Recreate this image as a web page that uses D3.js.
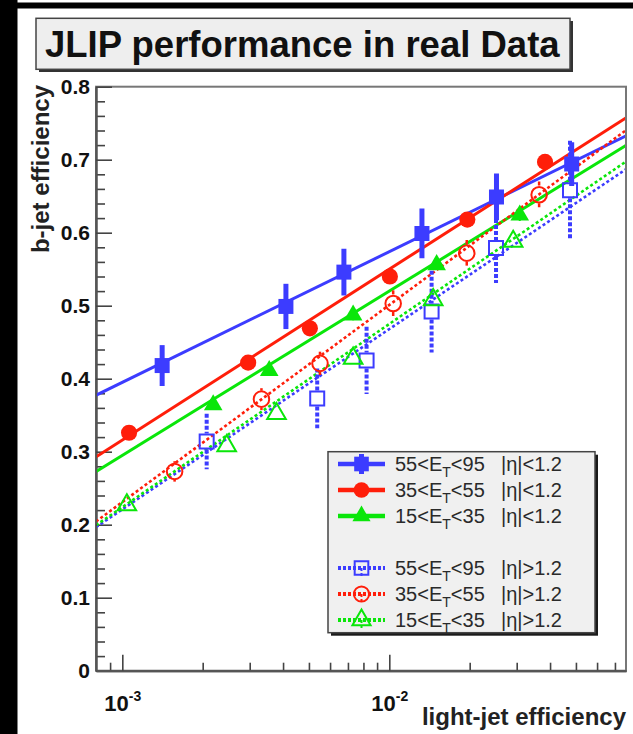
<!DOCTYPE html>
<html>
<head>
<meta charset="utf-8">
<script src="https://cdn.jsdelivr.net/npm/d3@7"></script>
<style>
  body { margin: 0; background: #fff; }
  svg { display: block; }
  text { font-family: "Liberation Sans", Arial, Helvetica, sans-serif; }
</style>
</head>
<body>
<svg id="chart" width="633" height="734"></svg>
<script>
// ---- measured working points: light-jet efficiency vs b-jet efficiency ----
// 55 < ET < 95, |eta| < 1.2
const lightA = [1.41e-3, 4.10e-3, 6.76e-3, 1.325e-2, 2.52e-2, 4.82e-2];
const bEffA  = [0.418, 0.499, 0.546, 0.599, 0.649, 0.694];
const bErrA  = [0.028, 0.031, 0.032, 0.034, 0.032, 0.030];
// 35 < ET < 55, |eta| < 1.2
const lightB = [1.06e-3, 2.96e-3, 5.04e-3, 1.005e-2, 1.96e-2, 3.83e-2];
const bEffB  = [0.326, 0.422, 0.469, 0.540, 0.618, 0.697];
const bErrB  = [0.006, 0.006, 0.007, 0.007, 0.007, 0.008];
// 15 < ET < 35, |eta| < 1.2
const lightC = [2.19e-3, 3.55e-3, 7.32e-3, 1.504e-2, 3.08e-2];
const bEffC  = [0.364, 0.411, 0.487, 0.556, 0.624];
const bErrC  = [0.006, 0.006, 0.007, 0.007, 0.008];
// 55 < ET < 95, |eta| > 1.2
const lightD = [2.07e-3, 5.37e-3, 8.22e-3, 1.44e-2, 2.51e-2, 4.75e-2];
const bEffD  = [0.314, 0.373, 0.425, 0.492, 0.579, 0.658];
const bErrD  = [0.038, 0.041, 0.046, 0.056, 0.048, 0.068];
// 35 < ET < 55, |eta| > 1.2
const lightE = [1.57e-3, 3.32e-3, 5.50e-3, 1.034e-2, 1.95e-2, 3.64e-2];
const bEffE  = [0.273, 0.372, 0.421, 0.503, 0.572, 0.652];
const bErrE  = [0.014, 0.015, 0.016, 0.018, 0.018, 0.018];
// 15 < ET < 35, |eta| > 1.2
const lightF = [1.04e-3, 2.46e-3, 3.78e-3, 7.32e-3, 1.46e-2, 2.91e-2];
const bEffF  = [0.227, 0.308, 0.352, 0.428, 0.508, 0.588];
const bErrF  = [0.006, 0.006, 0.007, 0.007, 0.008, 0.008];

// straight-line fits in log10(light eff): b = intercept + slope * (log10(x) + 3)
const fitIntercept = [0.395, 0.316, 0.295, 0.221, 0.231, 0.224];
const fitSlope     = [0.179, 0.234, 0.225, 0.247, 0.270, 0.251];

// legend text
const etLow   = ["55", "35", "15", "55", "35", "15"];
const etHigh  = ["95", "55", "35", "95", "55", "35"];
const etaCut  = ["|\u03b7|<1.2", "|\u03b7|<1.2", "|\u03b7|<1.2", "|\u03b7|>1.2", "|\u03b7|>1.2", "|\u03b7|>1.2"];

// axis ticks
const xMajorTicks = [1e-3, 1e-2];
const xMajorExp   = ["-3", "-2"];
const yMajorTicks = [0, 0.1, 0.2, 0.3, 0.4, 0.5, 0.6, 0.7, 0.8];
const yTickLabels = ["0", "0.1", "0.2", "0.3", "0.4", "0.5", "0.6", "0.7", "0.8"];

const titleText = "JLIP performance in real Data";

// ---- styles ----
const blue = "#3c3cff", red = "#ff1e0a", green = "#0ae60a";
const styles = [
  { color: blue,  shape: d3.symbolSquare,   size: 225, filled: true,  dashed: false, barW: 5,   half: 7.5 },
  { color: red,   shape: d3.symbolCircle,   size: 205, filled: true,  dashed: false, barW: 2,   half: 8 },
  { color: green, shape: d3.symbolTriangle, size: 150, filled: true,  dashed: false, barW: 2,   half: 8 },
  { color: blue,  shape: d3.symbolSquare,   size: 196, filled: false, dashed: true,  barW: 4,   half: 8 },
  { color: red,   shape: d3.symbolCircle,   size: 190, filled: false, dashed: true,  barW: 2.5, half: 8.5 },
  { color: green, shape: d3.symbolTriangle, size: 150, filled: false, dashed: true,  barW: 2,   half: 8 }
];

const series = [
  { x: lightA, y: bEffA, e: bErrA },
  { x: lightB, y: bEffB, e: bErrB },
  { x: lightC, y: bEffC, e: bErrC },
  { x: lightD, y: bEffD, e: bErrD },
  { x: lightE, y: bEffE, e: bErrE },
  { x: lightF, y: bEffF, e: bErrF }
].map((s, i) => ({
  ...s, ...styles[i],
  a: fitIntercept[i], b: fitSlope[i],
  pts: s.x.map((v, j) => ({ x: v, y: s.y[j], e: s.e[j] }))
}));

// ---- layout ----
const svg = d3.select("#chart");
const frame = { left: 96, right: 626, top: 86.7, bottom: 670.7 };

const x = d3.scaleLog().domain([7.97e-4, 0.077]).range([frame.left, frame.right]);
const y = d3.scaleLinear().domain([0, 0.8]).range([frame.bottom, frame.top]);

// canvas border bands
svg.append("rect").attr("x", 0).attr("y", 0).attr("width", 633).attr("height", 734).attr("fill", "#fff");
svg.append("rect").attr("x", 0).attr("y", 2.5).attr("width", 633).attr("height", 6).attr("fill", "#000");
svg.append("rect").attr("x", 0).attr("y", 0).attr("width", 17.5).attr("height", 734).attr("fill", "#000");

// title box
svg.append("rect").attr("x", 39).attr("y", 21).attr("width", 534).attr("height", 51).attr("fill", "#333");
svg.append("rect").attr("x", 36).attr("y", 18.3).attr("width", 534).attr("height", 51)
  .attr("fill", "#eeeeee").attr("stroke", "#444").attr("stroke-width", 1.5);
svg.append("text").attr("x", 45).attr("y", 56.5)
  .attr("font-size", 36.5).attr("font-weight", "bold").attr("fill", "#111")
  .text(titleText);

// frame
svg.append("rect")
  .attr("x", frame.left).attr("y", frame.top)
  .attr("width", frame.right - frame.left).attr("height", frame.bottom - frame.top)
  .attr("fill", "#fff").attr("stroke", "#777").attr("stroke-width", 2);

// y axis: major ticks with labels, minor ticks every 0.02
const yMinor = d3.range(0, 0.8001, 0.02).filter(v => Math.abs(v * 10 - Math.round(v * 10)) > 1e-6);
const yAxisMinor = d3.axisLeft(y).tickValues(yMinor).tickSizeInner(-9).tickSizeOuter(0).tickFormat("");
const yAxisMajor = d3.axisLeft(y).tickValues(yMajorTicks).tickSizeInner(-16).tickSizeOuter(0)
  .tickPadding(6).tickFormat((d, i) => yTickLabels[i]);

const gyMinor = svg.append("g").attr("transform", `translate(${frame.left},0)`).call(yAxisMinor);
const gyMajor = svg.append("g").attr("transform", `translate(${frame.left},0)`).call(yAxisMajor);
[gyMinor, gyMajor].forEach(g => {
  g.select(".domain").attr("stroke", "#555").attr("stroke-width", 2);
  g.selectAll(".tick line").attr("stroke", "#444").attr("stroke-width", 1.6);
});
gyMajor.selectAll(".tick text")
  .attr("x", -6).attr("font-size", 21).attr("font-weight", "bold").attr("fill", "#111")
  .attr("font-family", "'Liberation Sans', Arial, sans-serif");

// x axis: decades labelled 10^n, minor ticks at 2..9
const xMinor = [9e-4, 2e-3, 3e-3, 4e-3, 5e-3, 6e-3, 7e-3, 8e-3, 9e-3, 2e-2, 3e-2, 4e-2, 5e-2, 6e-2, 7e-2];
const xAxisMinor = d3.axisBottom(x).tickValues(xMinor).tickSizeInner(-8).tickSizeOuter(0).tickFormat("");
const xAxisMajor = d3.axisBottom(x).tickValues(xMajorTicks).tickSizeInner(-16).tickSizeOuter(0).tickFormat("");
const gxMinor = svg.append("g").attr("transform", `translate(0,${frame.bottom})`).call(xAxisMinor);
const gxMajor = svg.append("g").attr("transform", `translate(0,${frame.bottom})`).call(xAxisMajor);
[gxMinor, gxMajor].forEach(g => {
  g.select(".domain").attr("stroke", "#555").attr("stroke-width", 2);
  g.selectAll(".tick line").attr("stroke", "#444").attr("stroke-width", 1.6);
});
gxMajor.selectAll(".tick").each(function(d, i) {
  const t = d3.select(this).append("text")
    .attr("y", 40.5).attr("text-anchor", "middle")
    .attr("font-weight", "bold").attr("fill", "#111").attr("font-size", 22);
  t.append("tspan").text("10");
  t.append("tspan").attr("font-size", 14).attr("dy", -10).text(xMajorExp[i]);
});

// axis titles
svg.append("text")
  .attr("transform", "translate(49,85) rotate(-90)")
  .attr("text-anchor", "end").attr("font-size", 24).attr("font-weight", "bold").attr("fill", "#222")
  .text("b-jet efficiency");
svg.append("text")
  .attr("x", 626).attr("y", 725).attr("text-anchor", "end")
  .attr("font-size", 24).attr("font-weight", "bold").attr("fill", "#222")
  .text("light-jet efficiency");

// plotting area
svg.append("clipPath").attr("id", "plotClip").append("rect")
  .attr("x", frame.left + 1).attr("y", frame.top + 1)
  .attr("width", frame.right - frame.left - 2).attr("height", frame.bottom - frame.top - 2);
const plot = svg.append("g").attr("clip-path", "url(#plotClip)");

// fit lines
const fitLine = d3.line().x(d => x(d)).y((d, i, arr) => 0);
series.forEach(s => {
  const xs = x.domain();
  const f = v => s.a + s.b * (Math.log10(v) + 3);
  plot.append("path")
    .attr("d", d3.line().x(v => x(v)).y(v => y(f(v)))(xs))
    .attr("fill", "none").attr("stroke", s.color)
    .attr("stroke-width", s.dashed ? 2.6 : 3)
    .attr("stroke-dasharray", s.dashed ? "3,2.5" : null);
});

// error bars then markers
series.forEach(s => {
  const g = plot.append("g");
  s.pts.forEach(p => {
    const cx = x(p.x), cy = y(p.y);
    const top = y(p.y + p.e), bot = y(p.y - p.e);
    const segs = s.filled ? [[top, bot]] : [[top, Math.min(cy - s.half, bot)], [Math.max(cy + s.half, top), bot]];
    segs.forEach(([a, b]) => {
      if (b - a <= 0) return;
      g.append("line").attr("x1", cx).attr("x2", cx).attr("y1", a).attr("y2", b)
        .attr("stroke", s.color).attr("stroke-width", s.barW)
        .attr("stroke-dasharray", s.dashed ? "4,2" : null);
    });
  });
  g.selectAll("path.m").data(s.pts).join("path").attr("class", "m")
    .attr("transform", p => `translate(${x(p.x)},${y(p.y)})`)
    .attr("d", d3.symbol().type(s.shape).size(s.size))
    .attr("fill", s.filled ? s.color : "none")
    .attr("stroke", s.color).attr("stroke-width", s.filled ? 0 : 2);
});

// legend
const lg = { x: 328, y: 451.7, w: 267, h: 181 };
svg.append("rect").attr("x", lg.x + 3).attr("y", lg.y + 3).attr("width", lg.w).attr("height", lg.h).attr("fill", "#1a1a1a");
svg.append("rect").attr("x", lg.x).attr("y", lg.y).attr("width", lg.w).attr("height", lg.h)
  .attr("fill", "#f0f0f0").attr("stroke", "#444").attr("stroke-width", 1.5);
const rowY = [464, 490, 516, 568, 594, 620];
series.forEach((s, i) => {
  const ry = rowY[i];
  const g = svg.append("g");
  g.append("line").attr("x1", 338).attr("x2", 385).attr("y1", ry).attr("y2", ry)
    .attr("stroke", s.color).attr("stroke-width", s.dashed ? 4 : 4.5)
    .attr("stroke-dasharray", s.dashed ? "3,2" : null);
  if (s.filled && i === 0) {
    g.append("line").attr("x1", 361.5).attr("x2", 361.5).attr("y1", ry - 10).attr("y2", ry + 10)
      .attr("stroke", s.color).attr("stroke-width", 5);
  }
  if (!s.filled) {
    g.append("line").attr("x1", 361.5).attr("x2", 361.5).attr("y1", ry).attr("y2", ry + 10)
      .attr("stroke", s.color).attr("stroke-width", 2).attr("stroke-dasharray", "3,2");
  }
  g.append("path").attr("transform", `translate(361.5,${ry})`)
    .attr("d", d3.symbol().type(s.shape).size(s.size * 0.95)())
    .attr("fill", s.filled ? s.color : "none")
    .attr("stroke", s.color).attr("stroke-width", s.filled ? 0 : 2);
  const t = g.append("text").attr("x", 395).attr("y", ry + 7)
    .attr("font-size", 20).attr("fill", "#2a2a2a");
  t.append("tspan").text(etLow[i] + "<E");
  t.append("tspan").attr("font-size", 14).attr("dy", 6).text("T");
  t.append("tspan").attr("dy", -6).text("<" + etHigh[i]);
  g.append("text").attr("x", 501).attr("y", ry + 7)
    .attr("font-size", 20).attr("fill", "#2a2a2a").text(etaCut[i]);
});
</script>
</body>
</html>
